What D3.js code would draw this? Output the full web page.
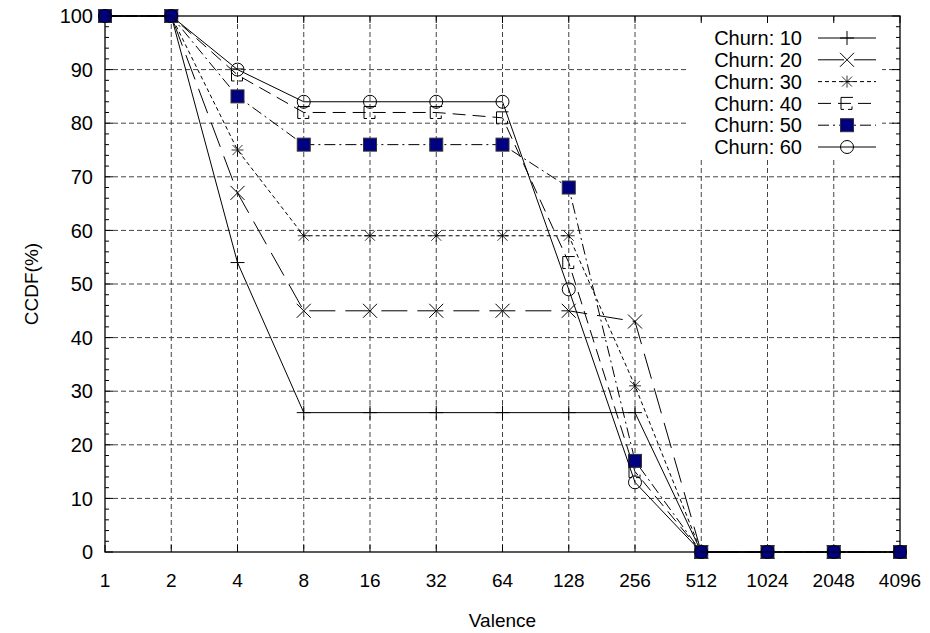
<!DOCTYPE html>
<meta charset="utf-8">
<style>
body { margin: 0; background: #fff; }
text { font-family: "Liberation Sans", Arial, sans-serif; fill: #000; }
</style>
<body>
<svg id="chart" width="930" height="633"></svg>
<script src="https://cdn.jsdelivr.net/npm/d3@7"></script>
<script>
// data
var valence = [1, 2, 4, 8, 16, 32, 64, 128, 256, 512, 1024, 2048, 4096]
var churnNames = ["Churn: 10", "Churn: 20", "Churn: 30", "Churn: 40", "Churn: 50", "Churn: 60"]
var churn10 = [100, 100, 54, 26, 26, 26, 26, 26, 26, 0, 0, 0, 0]
var churn20 = [100, 100, 67, 45, 45, 45, 45, 45, 43, 0, 0, 0, 0]
var churn30 = [100, 100, 75, 59, 59, 59, 59, 59, 31, 0, 0, 0, 0]
var churn40 = [100, 100, 89, 82, 82, 82, 81, 54, 15, 0, 0, 0, 0]
var churn50 = [100, 100, 85, 76, 76, 76, 76, 68, 17, 0, 0, 0, 0]
var churn60 = [100, 100, 90, 84, 84, 84, 84, 49, 13, 0, 0, 0, 0]
var yTicks = [0, 10, 20, 30, 40, 50, 60, 70, 80, 90, 100]

var allSeries = [churn10, churn20, churn30, churn40, churn50, churn60]
var dashes = [null, "26,10", "4,3", "13,7", "11,4,2,4", null]
var markers = ["plus", "cross", "star", "bracket", "square", "circle"]

var pLeft = 105, pRight = 900, pTop = 16, pBottom = 552
var svg = d3.select("#chart")

var x = d3.scaleLog().base(2).domain([1, 4096]).range([pLeft, pRight])
var y = d3.scaleLinear().domain([0, 100]).range([pBottom, pTop])

// grid
svg.append("g").selectAll("line").data(valence.slice(1, -1)).enter().append("line")
  .attr("x1", d => x(d)).attr("x2", d => x(d)).attr("y1", pTop).attr("y2", pBottom)
  .attr("stroke", "#444").attr("stroke-dasharray", "5,3")
svg.append("g").selectAll("line").data(yTicks.slice(1, -1)).enter().append("line")
  .attr("y1", d => y(d)).attr("y2", d => y(d)).attr("x1", pLeft).attr("x2", pRight)
  .attr("stroke", "#444").attr("stroke-dasharray", "5,3")

// legend background hides the grid behind it
svg.append("rect").attr("x", 688).attr("y", 24).attr("width", 194).attr("height", 136).attr("fill", "#fff")

// ticks, all pointing inward
var minor = d3.range(0, 101, 2)
var tk = svg.append("g").attr("stroke", "#000")
minor.forEach(function(v) {
  var len = v % 10 == 0 ? 8 : 4
  tk.append("line").attr("x1", pLeft).attr("x2", pLeft + len).attr("y1", y(v)).attr("y2", y(v))
  tk.append("line").attr("x1", pRight).attr("x2", pRight - len).attr("y1", y(v)).attr("y2", y(v))
})
valence.forEach(function(v) {
  tk.append("line").attr("x1", x(v)).attr("x2", x(v)).attr("y1", pTop).attr("y2", pTop + 7)
  tk.append("line").attr("x1", x(v)).attr("x2", x(v)).attr("y1", pBottom).attr("y2", pBottom - 7)
})

// frame
svg.append("rect").attr("x", pLeft).attr("y", pTop).attr("width", pRight - pLeft).attr("height", pBottom - pTop)
  .attr("fill", "none").attr("stroke", "#000").attr("stroke-width", 1.3)

// tick labels
svg.append("g").selectAll("text").data(yTicks).enter().append("text")
  .attr("x", pLeft - 12).attr("y", d => y(d)).attr("dy", "0.36em")
  .attr("text-anchor", "end").style("font-size", "20px").text(d => d)
svg.append("g").selectAll("text").data(valence).enter().append("text")
  .attr("x", d => x(d)).attr("y", 587).attr("text-anchor", "middle")
  .style("font-size", "19px").text(d => d)

svg.append("text").attr("x", (pLeft + pRight) / 2).attr("y", 627).attr("text-anchor", "middle")
  .style("font-size", "19px").text("Valence")
svg.append("text").attr("transform", "translate(38," + (pTop + pBottom) / 2 + ") rotate(-90)")
  .attr("text-anchor", "middle").style("font-size", "19px").text("CCDF(%)")

// markers
function drawMarker(g, type, cx, cy) {
  if (type == "plus") {
    g.append("path").attr("d", "M" + (cx - 7) + "," + cy + "h14M" + cx + "," + (cy - 7) + "v14")
      .attr("stroke", "#000").attr("fill", "none")
  } else if (type == "cross") {
    g.append("path").attr("d", "M" + (cx - 7) + "," + (cy - 7) + "l14,14M" + (cx - 7) + "," + (cy + 7) + "l14,-14")
      .attr("stroke", "#000").attr("fill", "none")
  } else if (type == "star") {
    g.append("path").attr("d", "M" + (cx - 6) + "," + cy + "h12M" + cx + "," + (cy - 6) + "v12M" +
        (cx - 5) + "," + (cy - 5) + "l10,10M" + (cx - 5) + "," + (cy + 5) + "l10,-10")
      .attr("stroke", "#000").attr("fill", "none").attr("stroke-width", 0.8)
  } else if (type == "bracket") {
    g.append("path").attr("d", "M" + (cx + 6) + "," + (cy - 6) + "h-12v12h3M" + (cx + 1) + "," + (cy + 6) + "h4v-3")
      .attr("stroke", "#000").attr("fill", "none").attr("stroke-width", 1)
  } else if (type == "square") {
    g.append("rect").attr("x", cx - 6.5).attr("y", cy - 6.5).attr("width", 13).attr("height", 13)
      .attr("fill", "#000080").attr("stroke", "#333").attr("stroke-width", 1)
  } else {
    g.append("circle").attr("cx", cx).attr("cy", cy).attr("r", 6.5)
      .attr("fill", "none").attr("stroke", "#000").attr("stroke-width", 1)
  }
}

var line = d3.line().x(d => x(d[0])).y(d => y(d[1]))

allSeries.forEach(function(vals, i) {
  var pts = valence.map((v, j) => [v, vals[j]])
  var g = svg.append("g")
  g.append("path").attr("d", line(pts)).attr("fill", "none").attr("stroke", "#000")
    .attr("stroke-width", 1).attr("stroke-dasharray", dashes[i])
  pts.forEach(p => drawMarker(g, markers[i], x(p[0]), y(p[1])))
})

// legend
var lg = svg.append("g")
churnNames.forEach(function(name, i) {
  var ly = 38 + i * 21.8
  lg.append("text").attr("x", 802).attr("y", ly).attr("dy", "0.36em").attr("text-anchor", "end")
    .style("font-size", "20px").text(name)
  lg.append("line").attr("x1", 818).attr("x2", 876).attr("y1", ly).attr("y2", ly)
    .attr("stroke", "#000").attr("stroke-dasharray", dashes[i])
  drawMarker(lg, markers[i], 847, ly)
})
</script>
</body>
